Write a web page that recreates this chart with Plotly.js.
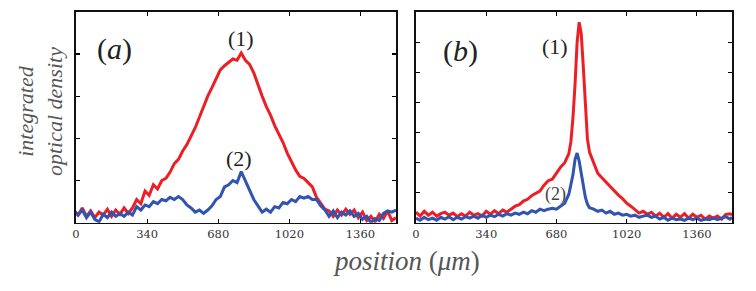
<!DOCTYPE html>
<html>
<head>
<meta charset="utf-8">
<script src="https://cdn.plot.ly/plotly-3.0.1.min.js"></script>
<style>html,body{margin:0;padding:0;background:#fff;}#chart{width:756px;height:291px;}</style>
</head>
<body>
<div id="chart"></div>
<script>
// ---- Data (arbitrary density units) ----
const xA = [-10,10,30,50,70,90,110,130,150,170,190,210,230,250,270,290,310,330,350,370,390,410,430,450,470,490,510,530,550,570,590,610,630,650,670,690,710,730,750,770,790,810,830,850,870,890,910,930,950,970,990,1010,1030,1050,1070,1090,1110,1130,1150,1170,1190,1210,1230,1250,1270,1290,1310,1330,1350,1370,1390,1410,1430,1450,1470,1490,1510,1530];
const redA = [0.30,0.18,0.35,0.15,0.28,0.12,0.25,0.18,0.32,0.15,0.30,0.20,0.35,0.22,0.35,0.55,0.45,0.75,0.65,0.90,0.80,1.00,1.05,1.20,1.40,1.50,1.70,1.85,2.05,2.25,2.50,2.75,3.00,3.20,3.40,3.62,3.72,3.80,3.88,3.85,4.02,3.85,3.75,3.55,3.25,3.00,2.75,2.55,2.30,2.10,1.90,1.65,1.45,1.25,1.10,1.05,0.95,0.85,0.60,0.45,0.32,0.28,0.15,0.30,0.18,0.32,0.20,0.30,0.12,0.25,0.05,0.15,0.02,0.20,0.10,0.28,0.05,0.12];
const blueA = [0.28,0.18,0.30,0.12,0.25,0.08,0.02,0.20,0.12,0.25,0.15,0.22,0.15,0.25,0.18,0.38,0.30,0.42,0.38,0.50,0.45,0.55,0.52,0.60,0.55,0.62,0.55,0.42,0.35,0.25,0.30,0.22,0.30,0.40,0.55,0.62,0.85,0.90,1.00,0.95,1.21,1.00,0.80,0.55,0.40,0.25,0.32,0.25,0.38,0.35,0.48,0.45,0.55,0.50,0.62,0.58,0.62,0.55,0.55,0.40,0.30,0.15,0.28,0.12,0.25,0.18,0.28,0.15,0.22,0.08,0.15,0.00,0.10,0.05,0.22,0.28,0.25,0.30];

const xB = [0,20,40,60,80,100,120,140,160,180,200,220,240,260,280,300,320,340,360,380,400,420,440,460,480,500,520,540,560,580,600,620,640,660,680,700,720,740,750,760,770,780,790,800,810,820,830,840,860,880,900,920,940,960,980,1000,1020,1040,1060,1080,1100,1120,1140,1160,1180,1200,1220,1240,1260,1280,1300,1320,1340,1360,1380,1400,1420,1440,1460,1480,1500,1520,1530];
const redB = [0.35,0.22,0.38,0.25,0.35,0.22,0.30,0.35,0.25,0.32,0.20,0.30,0.22,0.35,0.25,0.30,0.22,0.38,0.28,0.40,0.30,0.42,0.35,0.45,0.55,0.60,0.72,0.78,0.90,0.98,1.05,1.25,1.40,1.45,1.65,1.85,2.00,2.30,2.70,3.50,4.60,6.00,6.68,6.30,5.20,3.80,2.80,2.35,2.00,1.65,1.50,1.35,1.20,1.05,0.92,0.80,0.65,0.55,0.42,0.32,0.38,0.28,0.35,0.22,0.32,0.18,0.30,0.15,0.28,0.18,0.30,0.15,0.28,0.18,0.25,0.12,0.22,0.15,0.22,0.12,0.28,0.30,0.26];
const blueB = [0.15,0.08,0.18,0.10,0.15,0.08,0.18,0.12,0.20,0.10,0.18,0.12,0.20,0.15,0.22,0.15,0.25,0.18,0.25,0.20,0.28,0.22,0.30,0.25,0.32,0.28,0.35,0.30,0.40,0.35,0.45,0.40,0.45,0.48,0.45,0.55,0.65,0.95,1.25,1.60,2.10,2.32,2.05,1.60,1.20,0.85,0.62,0.50,0.45,0.38,0.42,0.32,0.38,0.28,0.32,0.25,0.28,0.22,0.25,0.18,0.22,0.25,0.18,0.22,0.12,0.18,0.08,0.15,0.10,0.12,0.08,0.15,0.10,0.15,0.08,0.12,0.10,0.15,0.10,0.15,0.20,0.12,0.18];

const xTicks = [0,340,680,1020,1360];
const xTickText = ['0','340','680','1020','1360'];

// ---- Styling ----
const RED = '#ec1f26', BLUE = '#3154b0';
const W = 756, H = 291;
const fx = p => p / W, fy = p => 1 - p / H;

function line(x, y, color, xa, ya) {
  return {x: x, y: y, xaxis: xa, yaxis: ya, type: 'scatter', mode: 'lines',
          line: {color: color, width: 3}, hoverinfo: 'skip', showlegend: false};
}
const traces = [
  line(xA, redA, RED, 'x', 'y'),
  line(xA, blueA, BLUE, 'x', 'y'),
  line(xB, redB, RED, 'x2', 'y2'),
  line(xB, blueB, BLUE, 'x2', 'y2')
];

const serif = '"Liberation Serif", "DejaVu Serif", serif';
const tickFont = {family: '"DejaVu Serif", serif', size: 11.5, color: '#333'};
function xax(dom, anchor) {
  return {domain: dom, anchor: anchor, range: [0, 1530], tickmode: 'array', tickvals: xTicks, ticktext: xTickText,
          ticks: 'inside', ticklen: 4, tickwidth: 1.2, tickcolor: '#000', mirror: 'allticks',
          showline: true, linecolor: '#111', linewidth: 1.6, showgrid: false, zeroline: false,
          tickfont: tickFont, fixedrange: true};
}
function yax(dom, anchor, top) {
  return {domain: dom, anchor: anchor, range: [0, top], dtick: 1, tick0: 0,
          ticks: 'inside', ticklen: 4, tickwidth: 1.2, tickcolor: '#000', mirror: 'allticks',
          showline: true, linecolor: '#111', linewidth: 1.6, showgrid: false, zeroline: false,
          showticklabels: false, fixedrange: true};
}
const yDom = [fy(222.7), fy(11.7)];

function ann(text, px, py, size, color, extra) {
  return Object.assign({text: text, x: fx(px), y: fy(py), xref: 'paper', yref: 'paper',
    xanchor: 'center', yanchor: 'middle', showarrow: false,
    font: {family: serif, size: size, color: color || '#222'}}, extra || {});
}

const layout = {
  width: W, height: H, margin: {l: 0, r: 0, t: 0, b: 0},
  paper_bgcolor: '#fff', plot_bgcolor: '#fff', showlegend: false,
  font: {family: serif},
  xaxis: xax([fx(76), fx(396)], 'y'),
  yaxis: yax(yDom, 'x', 5),
  xaxis2: xax([fx(416), fx(732)], 'y2'),
  yaxis2: yax(yDom, 'x2', 7.03),
  annotations: [
    ann('(<i>a</i>)', 114, 49, 30, '#222'),
    ann('(1)', 241.5, 39, 22, '#222'),
    ann('(2)', 239, 158, 22, '#222'),
    ann('(<i>b</i>)', 460, 51, 30, '#222'),
    ann('(1)', 555, 46, 22, '#222'),
    ann('(2)', 555, 194, 18, '#444'),
    ann('<i>position</i> (<i>μm</i>)', 406, 261, 27, '#555'),
    ann('<i>integrated</i><br><i>optical density</i>', 40, 112, 22, '#555', {textangle: -90})
  ]
};

Plotly.newPlot('chart', traces, layout, {displayModeBar: false, staticPlot: true});
</script>
</body>
</html>
